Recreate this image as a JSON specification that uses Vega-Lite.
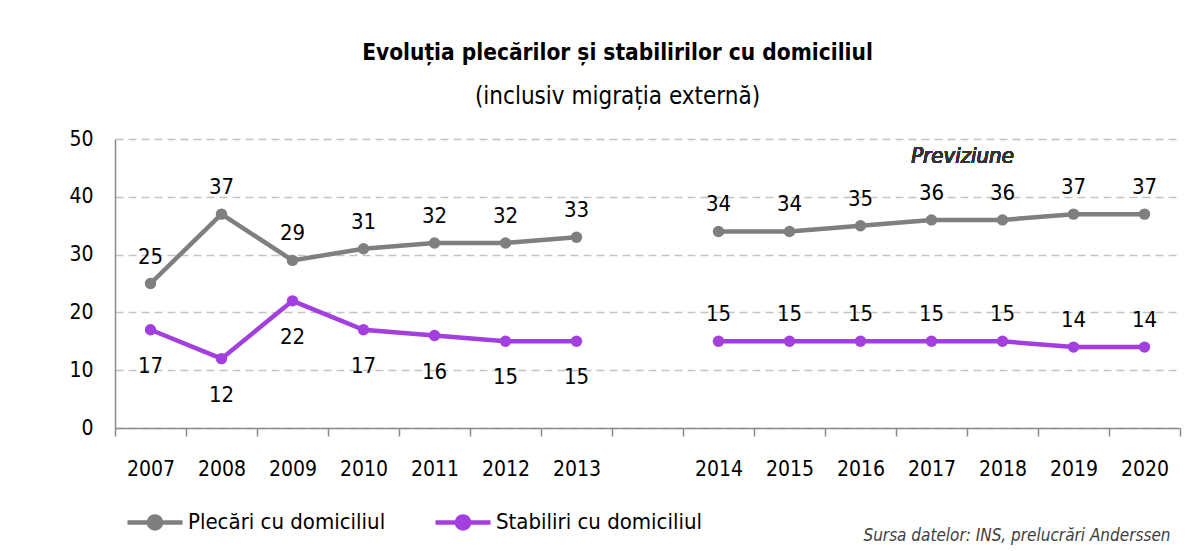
{
  "$schema": "https://vega.github.io/schema/vega-lite/v6.json",
  "autosize": {"type": "none"},
  "width": 1065,
  "height": 289,
  "padding": {"left": 115, "top": 139, "right": 18, "bottom": 123},
  "background": "white",
  "config": {
    "font": "Liberation Sans Narrow, DejaVu Sans Condensed, sans-serif",
    "view": {"stroke": null}
  },
  "title": {
    "text": "Evoluția plecărilor și stabilirilor cu domiciliul",
    "subtitle": "(inclusiv migrația externă)",
    "anchor": "middle",
    "frame": "group",
    "dx": -30,
    "offset": 19,
    "fontSize": 22.5,
    "fontWeight": "bold",
    "color": "#000000",
    "subtitleFontSize": 24,
    "subtitleColor": "#000000",
    "subtitlePadding": 21
  },
  "data": {
    "values": [
      {"year": "2007", "series": "Plecări cu domiciliul", "seg": "a", "value": 25},
      {"year": "2008", "series": "Plecări cu domiciliul", "seg": "a", "value": 37},
      {"year": "2009", "series": "Plecări cu domiciliul", "seg": "a", "value": 29},
      {"year": "2010", "series": "Plecări cu domiciliul", "seg": "a", "value": 31},
      {"year": "2011", "series": "Plecări cu domiciliul", "seg": "a", "value": 32},
      {"year": "2012", "series": "Plecări cu domiciliul", "seg": "a", "value": 32},
      {"year": "2013", "series": "Plecări cu domiciliul", "seg": "a", "value": 33},
      {"year": "2014", "series": "Plecări cu domiciliul", "seg": "b", "value": 34},
      {"year": "2015", "series": "Plecări cu domiciliul", "seg": "b", "value": 34},
      {"year": "2016", "series": "Plecări cu domiciliul", "seg": "b", "value": 35},
      {"year": "2017", "series": "Plecări cu domiciliul", "seg": "b", "value": 36},
      {"year": "2018", "series": "Plecări cu domiciliul", "seg": "b", "value": 36},
      {"year": "2019", "series": "Plecări cu domiciliul", "seg": "b", "value": 37},
      {"year": "2020", "series": "Plecări cu domiciliul", "seg": "b", "value": 37},
      {"year": "2007", "series": "Stabiliri cu domiciliul", "seg": "a", "value": 17},
      {"year": "2008", "series": "Stabiliri cu domiciliul", "seg": "a", "value": 12},
      {"year": "2009", "series": "Stabiliri cu domiciliul", "seg": "a", "value": 22},
      {"year": "2010", "series": "Stabiliri cu domiciliul", "seg": "a", "value": 17},
      {"year": "2011", "series": "Stabiliri cu domiciliul", "seg": "a", "value": 16},
      {"year": "2012", "series": "Stabiliri cu domiciliul", "seg": "a", "value": 15},
      {"year": "2013", "series": "Stabiliri cu domiciliul", "seg": "a", "value": 15},
      {"year": "2014", "series": "Stabiliri cu domiciliul", "seg": "b", "value": 15},
      {"year": "2015", "series": "Stabiliri cu domiciliul", "seg": "b", "value": 15},
      {"year": "2016", "series": "Stabiliri cu domiciliul", "seg": "b", "value": 15},
      {"year": "2017", "series": "Stabiliri cu domiciliul", "seg": "b", "value": 15},
      {"year": "2018", "series": "Stabiliri cu domiciliul", "seg": "b", "value": 15},
      {"year": "2019", "series": "Stabiliri cu domiciliul", "seg": "b", "value": 14},
      {"year": "2020", "series": "Stabiliri cu domiciliul", "seg": "b", "value": 14}
    ]
  },
  "encoding": {
    "x": {
      "field": "year",
      "type": "ordinal",
      "scale": {
        "type": "band",
        "paddingInner": 0,
        "paddingOuter": 0,
        "domain": ["2007", "2008", "2009", "2010", "2011", "2012", "2013", " ", "2014", "2015", "2016", "2017", "2018", "2019", "2020"]
      },
      "axis": {
        "title": "Sursa datelor: INS, prelucrări Anderssen",
        "titleFontStyle": "italic",
        "titleFontWeight": "normal",
        "titleFontSize": 17,
        "titleColor": "#404040",
        "titleAlign": "right",
        "titleAnchor": "end",
        "titleBaseline": "alphabetic",
        "titleX": 1055,
        "titleY": 112,
        "labelAngle": 0,
        "labelFontSize": 21,
        "labelColor": "#000000",
        "labelPadding": 22,
        "tickBand": "extent",
        "tickSize": 8,
        "tickColor": "#8c8c8c",
        "tickWidth": 1.5,
        "domainColor": "#8c8c8c",
        "domainWidth": 1.5,
        "grid": false
      }
    },
    "y": {
      "field": "value",
      "type": "quantitative",
      "scale": {"domain": [0, 50]},
      "axis": {
        "title": null,
        "values": [0, 10, 20, 30, 40, 50],
        "labelFontSize": 21,
        "labelColor": "#000000",
        "labelPadding": 22,
        "ticks": false,
        "domainColor": "#8c8c8c",
        "domainWidth": 1.5,
        "grid": true,
        "gridColor": "#c4c4c4",
        "gridWidth": 1.5,
        "gridDash": [8, 5]
      }
    },
    "color": {
      "field": "series",
      "type": "nominal",
      "scale": {
        "domain": ["Plecări cu domiciliul", "Stabiliri cu domiciliul"],
        "range": ["#7f7f7f", "#a33fdf"]
      },
      "legend": {
        "title": null,
        "orient": "none",
        "direction": "horizontal",
        "columns": 2,
        "legendX": 10,
        "legendY": 353,
        "symbolType": "M-1,0H1M0.22,0A0.22,0.22,0,1,1,-0.22,0A0.22,0.22,0,1,1,0.22,0Z",
        "symbolSize": 3025,
        "symbolStrokeWidth": 4.5,
        "labelFontSize": 22,
        "labelLimit": 400,
        "labelColor": "#000000",
        "labelOffset": 3,
        "columnPadding": 40,
        "encode": {
          "symbols": {"update": {"fill": {"scale": "color", "field": "value"}, "opacity": {"value": 1}}}
        }
      }
    }
  },
  "layer": [
    {
      "mark": {"type": "line", "strokeWidth": 4.5},
      "encoding": {"detail": {"field": "seg"}}
    },
    {
      "mark": {"type": "point", "filled": true, "size": 130, "opacity": 1}
    },
    {
      "transform": [{"filter": "datum.series == 'Plecări cu domiciliul'"}],
      "mark": {"type": "text", "dy": -27, "fontSize": 22, "color": "#000000"},
      "encoding": {"text": {"field": "value"}, "color": {"value": "#000000"}}
    },
    {
      "transform": [{"filter": "datum.series == 'Stabiliri cu domiciliul' && toNumber(datum.year) <= 2013"}],
      "mark": {"type": "text", "dy": 36, "fontSize": 22},
      "encoding": {"text": {"field": "value"}, "color": {"value": "#000000"}}
    },
    {
      "transform": [{"filter": "datum.series == 'Stabiliri cu domiciliul' && toNumber(datum.year) >= 2014"}],
      "mark": {"type": "text", "dy": -27, "fontSize": 22},
      "encoding": {"text": {"field": "value"}, "color": {"value": "#000000"}}
    },
    {
      "mark": {"type": "text", "dx": 31, "fontSize": 22, "fontStyle": "italic", "fontWeight": "normal", "color": "#333333"},
      "encoding": {
        "x": {"datum": "2017"},
        "y": {"datum": 47},
        "text": {"value": "Previziune"},
        "color": {"value": "#333333"}
      }
    }
  ]
}
